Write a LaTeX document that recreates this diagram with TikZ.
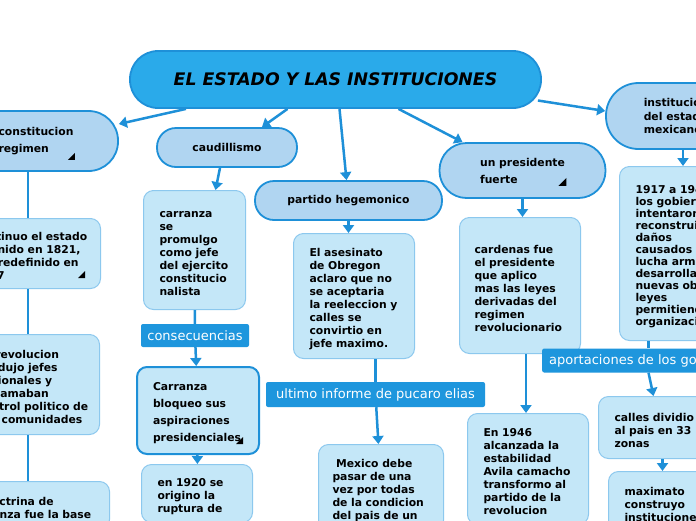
\documentclass[tikz,border=0pt]{standalone}
\usepackage{fontspec}
\setmainfont{DejaVu Sans}[BoldFont={DejaVu Sans Bold},ItalicFont={DejaVu Sans Oblique},BoldItalicFont={DejaVu Sans Bold Oblique}]
\usetikzlibrary{arrows.meta}
\definecolor{mapline}{RGB}{30,144,216}
\definecolor{mainfill}{RGB}{42,170,234}
\definecolor{pillfill}{RGB}{176,213,241}
\definecolor{boxfill}{RGB}{196,231,248}
\definecolor{boxline}{RGB}{140,200,238}
\definecolor{tagfill}{RGB}{30,150,221}
\tikzset{
  link/.style={mapline, line width=2.5pt},
  arr/.style={link, -{Triangle[length=8pt,width=11pt]}},
  pill/.style={draw=mapline, line width=1.8pt, fill=pillfill, align=left, inner sep=0pt,
    font=\fontsize{10.8}{17}\selectfont\bfseries},
  note/.style={draw=boxline, line width=1pt, fill=boxfill, rounded corners=10pt, align=left,
    anchor=north west, inner ysep=0pt, font=\fontsize{10.8}{13}\selectfont\bfseries,
    execute at begin node={\rule{0pt}{14pt}}},
  tag/.style={fill=tagfill, text=white, rounded corners=2pt, inner sep=0pt,
    font=\fontsize{13}{15}\selectfont}
}
\begin{document}
\begin{tikzpicture}[x=1pt,y=-1pt]
\useasboundingbox (0,0) rectangle (696,520);
\fill[white] (0,0) rectangle (696,520);
\clip (0,0) rectangle (696,520);

% centro y ramas
\node[pill, fill=mainfill, minimum width=411pt, minimum height=57pt, rounded corners=28pt,
  font=\fontsize{17.3}{20}\selectfont\bfseries\itshape] (main) at (335.5,79.5) {EL ESTADO Y LAS INSTITUCIONES};
\node[pill, minimum width=164pt, minimum height=60pt, rounded corners=29.5pt] (const) at (36,141) {constitucion\\regimen};
\node[pill, minimum width=140pt, minimum height=39pt, rounded corners=19pt] (caud) at (227,147.5) {caudillismo};
\node[pill, minimum width=187pt, minimum height=39pt, rounded corners=19pt] (part) at (348.5,200.5) {partido hegemonico};
\node[pill, minimum width=166pt, minimum height=55pt, rounded corners=27pt] (pres) at (522.5,170.5) {un presidente\\fuerte};
\node[pill, minimum width=154pt, minimum height=66pt, rounded corners=32.5pt,
  font=\fontsize{10.8}{13.5}\selectfont\bfseries] (inst) at (683,116) {instituciones\\del estado\\mexicano};

% notas
\node[note, text width=114pt, inner xsep=12pt, minimum height=70pt] (c1) at (-38,218)
  {continuo el estado\\definido en 1821,\\fue redefinido en\\1917};
\node[note, text width=116pt, inner xsep=6pt, minimum height=100pt] (c2) at (-29,334)
  {La revolucion\\produjo jefes\\regionales y\\reclamaban\\control politico de\\sus comunidades};
\node[note, text width=131pt, inner xsep=12pt, minimum height=48pt] (c3) at (-46,481)
  {La doctrina de\\Carranza fue la base};
\node[note, text width=70pt, inner xsep=16pt, minimum height=119pt] (carrA) at (143,190)
  {carranza\\se\\promulgo\\como jefe\\del ejercito\\constitucio\\nalista};
\node[tag, minimum width=108pt, minimum height=23pt] (cons) at (195,335.5) {consecuencias};
\node[note, draw=mapline, line width=2pt, text width=90pt, inner xsep=16pt, minimum height=87pt,
  font=\fontsize{10.8}{17}\selectfont\bfseries] (carrB) at (136,366)
  {Carranza\\bloqueo sus\\aspiraciones\\presidenciales};
\node[note, text width=79pt, inner xsep=16pt, minimum height=58pt] (en1920) at (141,464)
  {en 1920 se\\origino la\\ruptura de};
\node[note, text width=89pt, inner xsep=16pt, minimum height=125pt] (ases) at (293,233)
  {El asesinato\\de Obregon\\aclaro que no\\se aceptaria\\la reeleccion y\\calles se\\convirtio en\\jefe maximo.};
\node[tag, minimum width=219pt, minimum height=25pt] (informe) at (375.5,394.5) {ultimo informe de pucaro elias};
\node[note, text width=97pt, inner xsep=14pt, minimum height=86pt] (mexico) at (318,444)
  {\ Mexico debe\\pasar de una\\vez por todas\\de la condicion\\del pais de un};
\node[note, text width=91pt, inner xsep=15pt, minimum height=136pt] (card) at (459,217)
  {cardenas fue\\el presidente\\que aplico\\mas las leyes\\derivadas del\\regimen\\revolucionario};
\node[note, text width=89pt, inner xsep=16pt, minimum height=111pt] (avila) at (467,413)
  {En 1946\\alcanzada la\\estabilidad\\Avila camacho\\transformo al\\partido de la\\revolucion};
\node[note, text width=110pt, inner xsep=16pt, minimum height=174pt, execute at begin node={},
  font=\fontsize{10.8}{12}\selectfont\bfseries] (gob) at (619,166)
  {1917 a 1940\\los gobiernos\\intentaron\\reconstruir\\daños\\causados\\lucha armada\\desarrollar\\nuevas obras\\leyes\\permitiendo\\organizacion};
\node[tag, anchor=west, minimum height=24pt, inner xsep=7pt] (aport) at (542,360.5) {aportaciones de los gobiernos};
\node[note, text width=100pt, inner xsep=16pt, minimum height=62pt] (calles) at (598,396)
  {calles dividio\\al pais en 33\\zonas};
\node[note, text width=100pt, inner xsep=16pt, minimum height=60pt] (maxim) at (608,471)
  {maximato\\construyo\\instituciones};

% marcas
\fill ([xshift=-44pt,yshift=12pt]const.south east) -- ++(-7,0) -- ++(7,-7) -- cycle;
\fill ([xshift=-16pt,yshift=11pt]c1.south east) -- ++(-7,0) -- ++(7,-7) -- cycle;
\fill ([xshift=-40pt,yshift=13pt]pres.south east) -- ++(-8,0) -- ++(8,-8) -- cycle;
\fill ([xshift=-17pt,yshift=11pt]carrB.south east) -- ++(-7,0) -- ++(7,-7) -- cycle;

% conectores
\coordinate (lcol) at (28,0);
\coordinate (rcol) at (648.5,0);
\draw[arr] ([xshift=-149.5pt]main.south) -- ([yshift=17pt]const.east);
\draw[arr] ([xshift=-48pt]main.south) -- ([xshift=35pt]caud.north);
\draw[arr] ([xshift=4pt]main.south) -- ([xshift=-2pt]part.north);
\draw[arr] ([xshift=63pt]main.south) -- ([xshift=-60pt]pres.north);
\draw[arr] ([xshift=-4pt,yshift=-21pt]main.east) -- ([yshift=5pt]inst.west);

\draw[link] (const.south -| lcol) -- (c1.north -| lcol);
\draw[link] (c1.south -| lcol) -- (c2.north -| lcol);
\draw[link] (c2.south -| lcol) -- (c3.north -| lcol);
\draw[arr] ([xshift=-7pt]caud.south) -- ([xshift=21pt]carrA.north);
\draw[link] (carrA) -- (cons);
\draw[arr] (cons) -- (carrB);
\draw[arr] (carrB) -- (en1920);
\draw[arr] (part.south) -- (part.south |- ases.north);
\draw[link] (ases.south -| informe.north) -- (informe.north);
\draw[arr] (informe) -- (mexico);
\draw[arr] (pres.south) -- (pres.south |- card.north);
\draw[arr] ([xshift=6pt]card.south) -- ([xshift=-2pt]avila.north);
\draw[arr] (inst.south) -- (inst.south |- gob.north);
\draw[link] (gob.south -| rcol) -- (aport.north -| rcol);
\draw[arr] (aport.south -| rcol) -- ([xshift=-11pt]calles.north);
\draw[arr] ([xshift=-2pt]calles.south) -- ([xshift=-12pt]maxim.north);

\end{tikzpicture}
\end{document}
